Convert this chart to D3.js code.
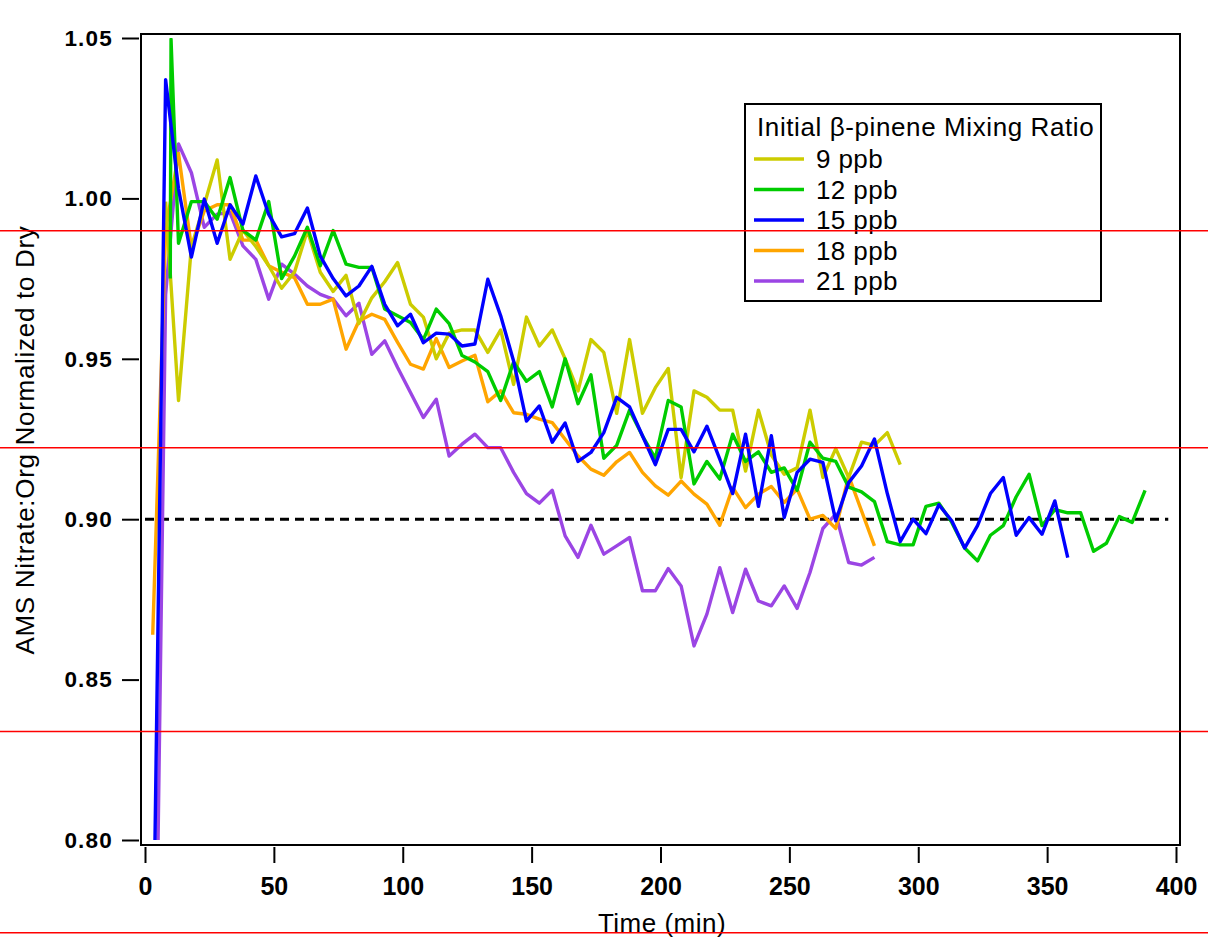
<!DOCTYPE html>
<html>
<head>
<meta charset="utf-8">
<script src="https://cdn.jsdelivr.net/npm/d3@7"></script>
<style>
body { margin: 0; background: #fff; }
svg { display: block; font-family: "Liberation Sans", Arial, sans-serif; }
</style>
</head>
<body>
<div id="chart"></div>
<script>
// sample times (min), shared by every run
var time = [3, 8, 13, 18, 23, 28, 33, 38, 43, 48, 53, 58, 63, 68, 73, 78, 83, 88, 93, 98,
	103, 108, 113, 118, 123, 128, 133, 138, 143, 148, 153, 158, 163, 168, 173, 178, 183, 188, 193, 198,
	203, 208, 213, 218, 223, 228, 233, 238, 243, 248, 253, 258, 263, 268, 273, 278, 283, 288, 293, 298,
	303, 308, 313, 318, 323, 328, 333, 338, 343, 348, 353, 358, 363, 368, 373, 378, 383, 388];

var ppb9 = [null, 0.999, 0.937, 0.985, 0.998, 1.012, 0.981, 0.990, 0.985, 0.979,
	0.972, 0.977, 0.990, 0.977, 0.971, 0.976, 0.961, 0.969, 0.974, 0.980,
	0.967, 0.963, 0.950, 0.958, 0.959, 0.959, 0.952, 0.959, 0.942, 0.963,
	0.954, 0.959, 0.950, 0.940, 0.956, 0.952, 0.933, 0.956, 0.933, 0.941,
	0.947, 0.913, 0.940, 0.938, 0.934, 0.934, 0.915, 0.934, 0.920, 0.914,
	0.916, 0.934, 0.913, 0.922, 0.913, 0.924, 0.923, 0.927, 0.917];

// 12 ppb has an extra early spike off the regular grid
var ppb12Lead = [[9.8, 0.975], [10.1, 1.0496]];
var ppb12 = [null, null, 0.986, 0.999, 0.999, 0.9935, 1.0065, 0.990, 0.987, 0.999,
	0.975, 0.982, 0.991, 0.979, 0.990, 0.9795, 0.9785, 0.9785, 0.9655, 0.9634,
	0.9613, 0.956, 0.9655, 0.961, 0.951, 0.949, 0.946, 0.937, 0.949, 0.943,
	0.946, 0.935, 0.950, 0.936, 0.945, 0.919, 0.923, 0.934, 0.926, 0.919,
	0.937, 0.935, 0.911, 0.918, 0.9125, 0.9265, 0.918, 0.921, 0.9146, 0.916,
	0.909, 0.924, 0.919, 0.918, 0.910, 0.9085, 0.9055, 0.893, 0.892, 0.892,
	0.904, 0.905, 0.899, 0.891, 0.887, 0.895, 0.898, 0.907, 0.914, 0.898,
	0.903, 0.902, 0.902, 0.890, 0.8925, 0.9008, 0.899, 0.909];

var ppb15 = [0.75, 1.037, 1.003, 0.9817, 0.9998, 0.986, 0.998, 0.992, 1.007, 0.995,
	0.988, 0.989, 0.997, 0.982, 0.975, 0.9696, 0.9727, 0.9788, 0.967, 0.9603,
	0.9639, 0.955, 0.958, 0.9577, 0.954, 0.9546, 0.9748, 0.9634, 0.9493, 0.9306,
	0.9353, 0.924, 0.930, 0.918, 0.9208, 0.927, 0.938, 0.935, 0.926, 0.917,
	0.928, 0.928, 0.921, 0.929, 0.9187, 0.908, 0.9265, 0.904, 0.926, 0.9005,
	0.9146, 0.9187, 0.9177, 0.8995, 0.9114, 0.9166, 0.925, 0.908, 0.893, 0.900,
	0.8955, 0.9045, 0.8995, 0.891, 0.898, 0.908, 0.913, 0.895, 0.9005, 0.8953,
	0.9057, 0.888];

var ppb18 = [0.864, 0.990, 1.014, 0.9847, 0.9961, 0.998, 0.998, 0.987, 0.987, 0.979,
	0.977, 0.9753, 0.967, 0.967, 0.9686, 0.953, 0.9618, 0.9639, 0.9623, 0.9551,
	0.9483, 0.9468, 0.9563, 0.9473, 0.9493, 0.9511, 0.9366, 0.940, 0.9332, 0.9327,
	0.9312, 0.9301, 0.9249, 0.9197, 0.9156, 0.9137, 0.9179, 0.9208, 0.9146, 0.9104,
	0.9075, 0.9119, 0.9078, 0.9047, 0.8981, 0.9099, 0.9036, 0.9078, 0.9102, 0.9052,
	0.9094, 0.900, 0.9012, 0.8971, 0.9135, 0.9026, 0.8917];

var ppb21 = [0.68, 0.970, 1.017, 1.008, 0.991, 0.9951, 0.9956, 0.9852, 0.981, 0.9686,
	0.9795, 0.9764, 0.9727, 0.9701, 0.9686, 0.9634, 0.9673, 0.9514, 0.9556, 0.9473,
	0.9395, 0.9317, 0.9374, 0.9197, 0.9234, 0.9265, 0.9223, 0.9223, 0.9146, 0.908,
	0.905, 0.909, 0.8948, 0.8881, 0.8981, 0.8891, 0.8917, 0.8943, 0.8777, 0.8777,
	0.8846, 0.8792, 0.8605, 0.8704, 0.8849, 0.8709, 0.8844, 0.8745, 0.873, 0.8792,
	0.8722, 0.8834, 0.8971, 0.9016, 0.8865, 0.8857, 0.8881];

var seriesNames = ["9 ppb", "12 ppb", "15 ppb", "18 ppb", "21 ppb"];
var seriesColors = ["#cccc00", "#00cc00", "#0000ff", "#ffa500", "#9b45e4"];
var xTicks = [0, 50, 100, 150, 200, 250, 300, 350, 400];
var yTicks = [0.80, 0.85, 0.90, 0.95, 1.00, 1.05];
var refLevel = 0.90;
var redLevels = [0.9899, 0.9223, 0.8338, 0.7711];

var width = 1208, height = 945;

var x_scale = d3.scaleLinear().domain([0, 400]).range([145, 1176]);
var y_scale = d3.scaleLinear().domain([0.80, 1.05]).range([840, 38]);

var svg = d3.select("#chart").append("svg")
	.attr("width", width)
	.attr("height", height);

svg.append("rect").attr("width", width).attr("height", height).attr("fill", "#fff");

svg.append("clipPath").attr("id", "plot_clip")
	.append("rect")
	.attr("x", 141).attr("y", y_scale(1.05))
	.attr("width", 1180 - 141).attr("height", y_scale(0.80) - y_scale(1.05));

// dashed reference at 0.90
svg.append("line")
	.attr("x1", x_scale(0)).attr("x2", x_scale(397))
	.attr("y1", y_scale(refLevel)).attr("y2", y_scale(refLevel))
	.attr("stroke", "#000").attr("stroke-width", 3)
	.attr("stroke-dasharray", "9,6");

function toPoints(vals, lead) {
	var pts = lead ? lead.slice() : [];
	for(var i = 0; i < vals.length; i++) {
		if(vals[i] != null) pts.push([time[i], vals[i]]);
	}
	return pts;
}

var seriesData = [toPoints(ppb9), toPoints(ppb12, ppb12Lead), toPoints(ppb15), toPoints(ppb18), toPoints(ppb21)];

var line = d3.line()
	.x(function(d) { return x_scale(d[0]); })
	.y(function(d) { return y_scale(d[1]); });

var g_lines = svg.append("g").attr("clip-path", "url(#plot_clip)");
// draw 21 first so the order of overlap looks like the original
var drawOrder = [4, 3, 0, 1, 2];
for(var j = 0; j < drawOrder.length; j++) {
	var i = drawOrder[j];
	g_lines.append("path")
		.datum(seriesData[i])
		.attr("fill", "none")
		.attr("stroke", seriesColors[i])
		.attr("stroke-width", 3.4)
		.attr("stroke-linejoin", "round")
		.attr("d", line);
}

// frame
svg.append("rect")
	.attr("x", 141).attr("y", 34)
	.attr("width", 1180 - 141).attr("height", 845 - 34)
	.attr("fill", "none").attr("stroke", "#000").attr("stroke-width", 2);

// axes
var xAxis = d3.axisBottom(x_scale).tickValues(xTicks).tickSize(16).tickPadding(14)
	.tickFormat(d3.format("d"));
var gx = svg.append("g").attr("transform", "translate(0,847)").call(xAxis);
gx.select(".domain").remove();
gx.selectAll(".tick line").attr("stroke", "#000").attr("stroke-width", 2);
gx.selectAll(".tick text")
	.attr("font-size", 25).attr("font-weight", "bold")
	.attr("font-family", "Liberation Sans, Arial, sans-serif")
	.attr("fill", "#000");

var yAxis = d3.axisLeft(y_scale).tickValues(yTicks).tickSize(17).tickPadding(9)
	.tickFormat(d3.format(".2f"));
var gy = svg.append("g").attr("transform", "translate(139,0)").call(yAxis);
gy.select(".domain").remove();
gy.selectAll(".tick line").attr("stroke", "#000").attr("stroke-width", 2);
gy.selectAll(".tick text")
	.attr("font-size", 22.5).attr("font-weight", "bold")
	.attr("letter-spacing", "1.2px")
	.attr("font-family", "Liberation Sans, Arial, sans-serif")
	.attr("fill", "#000");

svg.append("text")
	.attr("transform", "translate(34,440) rotate(-90)")
	.attr("text-anchor", "middle")
	.attr("font-size", 26)
	.attr("letter-spacing", "0.7px")
	.text("AMS Nitrate:Org Normalized to Dry");

svg.append("text")
	.attr("x", 662).attr("y", 932)
	.attr("text-anchor", "middle")
	.attr("font-size", 26)
	.attr("letter-spacing", "0.5px")
	.text("Time (min)");

// legend
var legend = svg.append("g").attr("class", "legend");
legend.append("rect")
	.attr("x", 745).attr("y", 104).attr("width", 356).attr("height", 197)
	.attr("fill", "#fff").attr("stroke", "#000").attr("stroke-width", 2);
legend.append("text")
	.attr("x", 757).attr("y", 136)
	.attr("font-size", 26)
	.attr("letter-spacing", "0.6px")
	.text("Initial \u03b2-pinene Mixing Ratio");
for(var i = 0; i < seriesNames.length; i++) {
	var ly = 159 + i * 30.5;
	legend.append("line")
		.attr("x1", 754).attr("x2", 804).attr("y1", ly).attr("y2", ly)
		.attr("stroke", seriesColors[i]).attr("stroke-width", 3.4);
	legend.append("text")
		.attr("x", 816).attr("y", ly + 9)
		.attr("font-size", 26)
		.attr("letter-spacing", "0.4px")
		.text(seriesNames[i]);
}

// red guide lines across the whole picture
svg.selectAll("line.red_guide")
	.data(redLevels)
	.enter()
	.append("line")
	.attr("class", "red_guide")
	.attr("x1", 0).attr("x2", width)
	.attr("y1", function(d) { return y_scale(d); })
	.attr("y2", function(d) { return y_scale(d); })
	.attr("stroke", "#ff0000").attr("stroke-width", 1.5);
</script>
</body>
</html>
